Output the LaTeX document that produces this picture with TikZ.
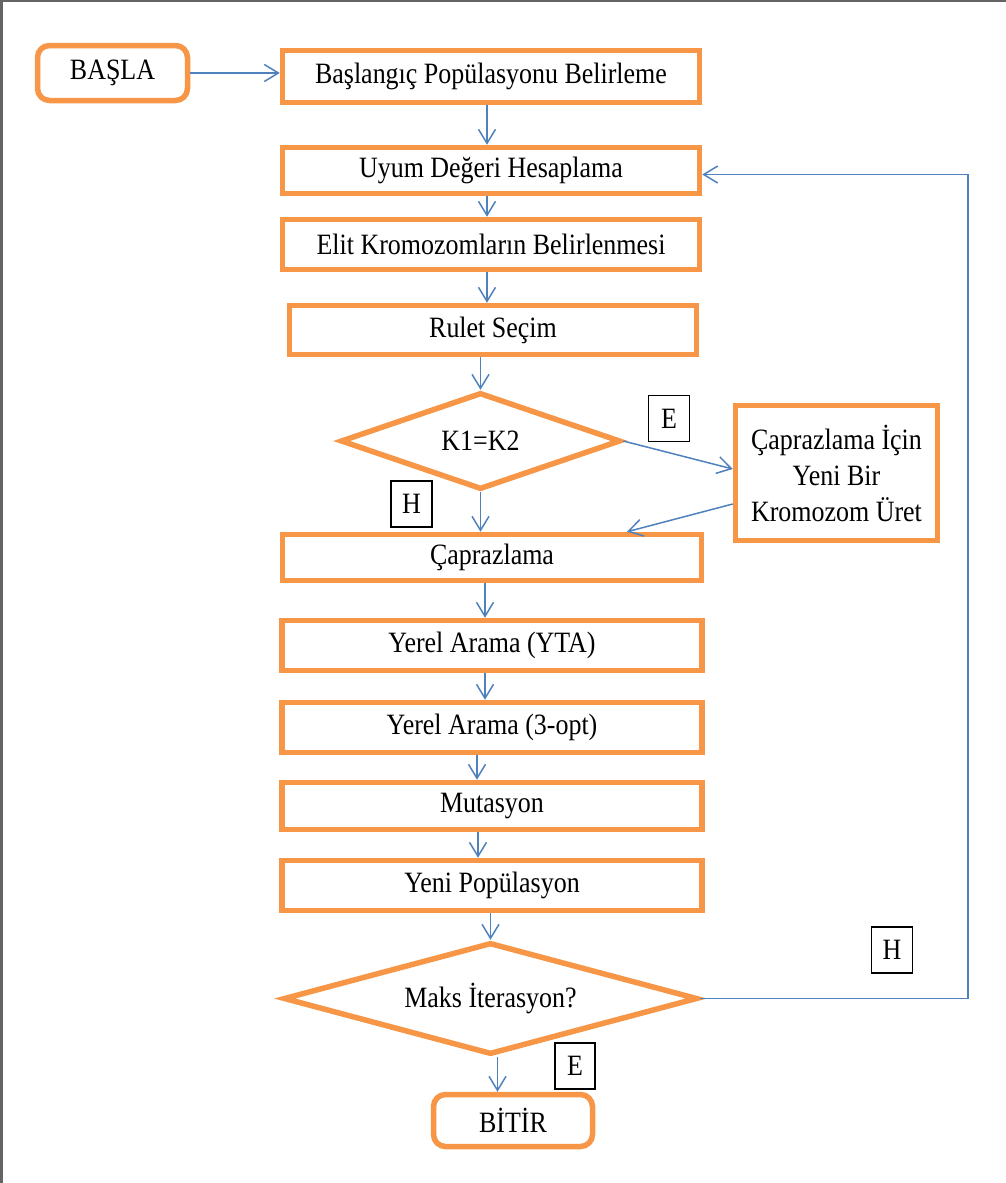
\documentclass[tikz,border=0pt]{standalone}
\usepackage{fontspec}
\setmainfont{Liberation Serif}[FakeStretch=0.88]
\usepackage{xcolor}
\usetikzlibrary{shapes.geometric,arrows.meta}

\definecolor{akisTuruncu}{RGB}{247,150,70}
\definecolor{akisMavi}{RGB}{79,129,189}
\definecolor{cerceveGri}{RGB}{100,100,100}

\begin{document}
\begin{tikzpicture}[x=1pt,y=1pt,yscale=-1,xscale=1,
  kutu/.style={draw=akisTuruncu,line width=5.5pt,fill=white,inner sep=0pt,font=\fontsize{29.5}{36}\selectfont},
  ucbox/.style={kutu,rounded corners=12pt},
  karar/.style={kutu,diamond,aspect=3},
  etiket/.style={draw=black,line width=1.3pt,fill=white,inner sep=0pt,minimum width=41,minimum height=46,font=\fontsize{29.5}{32}\selectfont},
  ok/.style={draw=akisMavi,line width=1.5pt,-{Straight Barb[length=14pt,width=17pt]}}]
\useasboundingbox (0,0) rectangle (1006,1183);

%Frame
\draw [cerceveGri,line width=2.5pt] (1.5,1183) -- (1.5,1.2) -- (1006,1.2);

%Shape: Rounded Rectangle
\node [ucbox,minimum width=150,minimum height=55] (basla) at (112.5,73) {BAŞLA};
%Shape: Rectangle
\node [kutu,minimum width=417,minimum height=52] (init) at (491,76.5) {Başlangıç Popülasyonu Belirleme};
%Shape: Rectangle
\node [kutu,minimum width=417,minimum height=46] (uyum) at (491,170.5) {Uyum Değeri Hesaplama};
%Shape: Rectangle
\node [kutu,minimum width=417,minimum height=50] (elit) at (491,244.5) {Elit Kromozomların Belirlenmesi};
%Shape: Rectangle
\node [kutu,minimum width=407,minimum height=49] (rulet) at (493,330) {Rulet Seçim};
%Shape: Diamond
\node [karar,minimum width=280,minimum height=97] (k1k2) at (480.5,441) {K1=K2};
%Shape: Rectangle
\node [kutu,align=center,minimum width=202,minimum height=135] (yenik) at (836.5,473) {Çaprazlama İçin\\Yeni Bir\\Kromozom Üret};
%Shape: Rectangle
\node [kutu,minimum width=419,minimum height=46] (capr) at (492,557.5) {Çaprazlama};
%Shape: Rectangle
\node [kutu,minimum width=420,minimum height=50] (yta) at (492,645.5) {Yerel Arama (YTA)};
%Shape: Rectangle
\node [kutu,minimum width=420,minimum height=50] (opt) at (492,727.5) {Yerel Arama (3-opt)};
%Shape: Rectangle
\node [kutu,minimum width=420,minimum height=47] (mut) at (492,806) {Mutasyon};
%Shape: Rectangle
\node [kutu,minimum width=420,minimum height=50] (yenipop) at (492,885.5) {Yeni Popülasyon};
%Shape: Diamond
\node [karar,minimum width=414,minimum height=112] (maks) at (490.5,998.5) {Maks İterasyon?};
%Shape: Rounded Rectangle
\node [ucbox,minimum width=159,minimum height=52] (bitir) at (513,1120.5) {BİTİR};

% Text Node
\node [etiket] (e1) at (669,418.5) {E};
% Text Node
\node [etiket] (h1) at (411.5,504) {H};
% Text Node
\node [etiket] (h2) at (892,950) {H};
% Text Node
\node [etiket,minimum width=40] (e2) at (575,1066) {E};

\coordinate (donus) at (968,600);

%Straight Lines
\draw [ok] (basla.east) -- (basla.east -| init.west);
\draw [ok] ([xshift=-4]init.south) -- ([xshift=-4]uyum.north);
\draw [ok] ([xshift=-4]uyum.south) -- ([xshift=-4]elit.north);
\draw [ok] ([xshift=-4]elit.south) -- ([xshift=-6]rulet.north);
\draw [ok] (k1k2.north |- rulet.south) -- (k1k2.north);
\draw [ok] (k1k2.south) -- (k1k2.south |- capr.north);
\draw [ok] (k1k2.east) -- ([yshift=-4]yenik.west);
\draw [ok] ([yshift=31]yenik.west) -- ([xshift=135]capr.north);
\draw [ok] ([xshift=-7]capr.south) -- ([xshift=-7]yta.north);
\draw [ok] ([xshift=-7]yta.south) -- ([xshift=-7]opt.north);
\draw [ok] ([xshift=-15]opt.south) -- ([xshift=-15]mut.north);
\draw [ok] ([xshift=-14]mut.south) -- ([xshift=-14]yenipop.north);
\draw [ok] (maks.north |- yenipop.south) -- (maks.north);
\draw [ok] ([xshift=7]maks.south) -- ([xshift=7]maks.south |- bitir.north);
\draw [ok] (maks.east) -- (maks.east -| donus) |- ([yshift=4]uyum.east);

\end{tikzpicture}
\end{document}
